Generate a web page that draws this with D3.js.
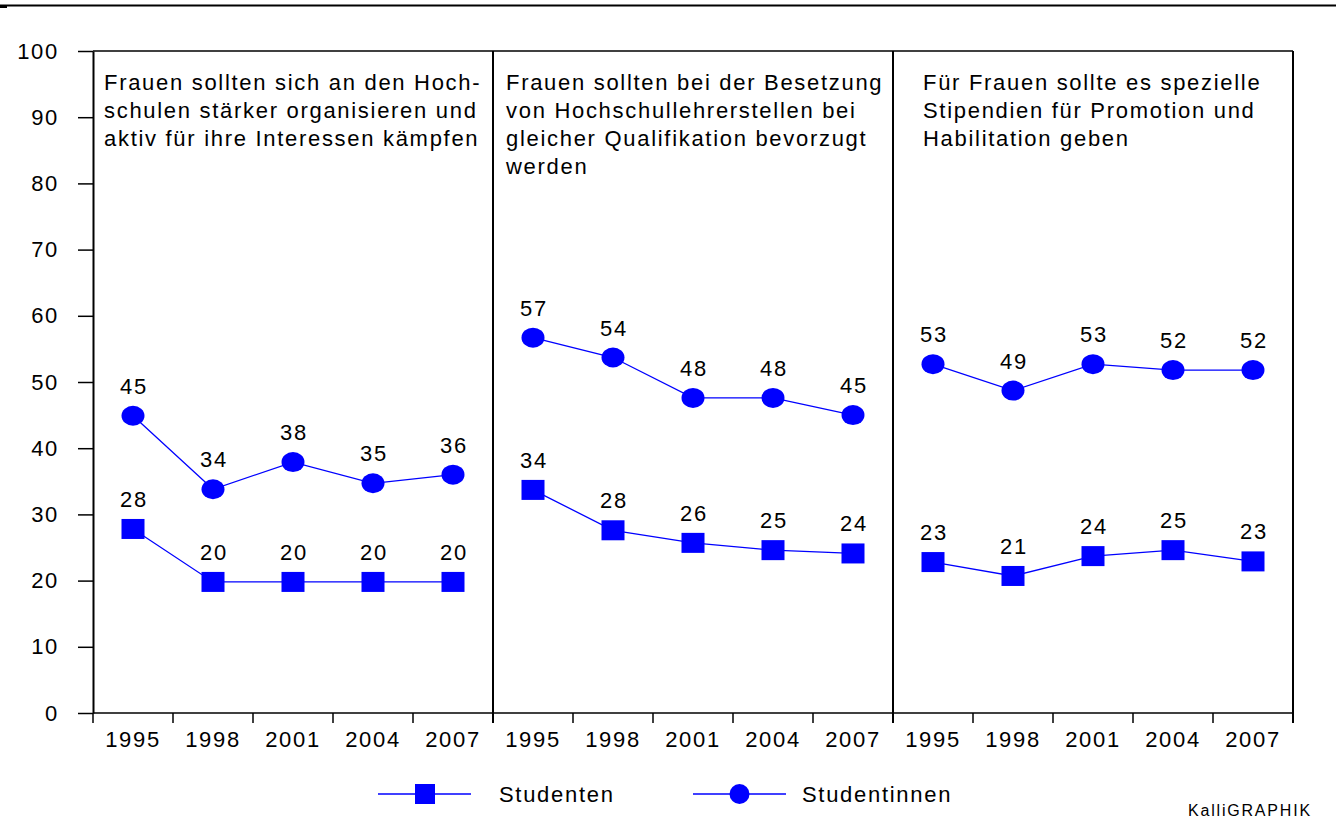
<!DOCTYPE html>
<html lang="de">
<head>
    <meta charset="UTF-8">
    <title>Frauenförderung an Hochschulen</title>
    <script src="https://d3js.org/d3.v7.min.js"></script>
    <style>
        body { margin: 0; background: #fff; }
        text {
            font-family: "Liberation Sans", Arial, sans-serif;
            font-size: 22px;
            letter-spacing: 1.7px;
            fill: #000;
        }
        .series line, .series path { stroke: #0000ff; }
    </style>
</head>
<body>
<svg width="1336" height="823"></svg>
<script>
    // data
    var years = ["1995", "1998", "2001", "2004", "2007"];
    var yTicks = [0, 10, 20, 30, 40, 50, 60, 70, 80, 90, 100];

    var titles = [
        ["Frauen sollten sich an den Hoch-", "schulen stärker organisieren und", "aktiv für ihre Interessen kämpfen"],
        ["Frauen sollten bei der Besetzung", "von Hochschullehrerstellen bei", "gleicher Qualifikation bevorzugt", "werden"],
        ["Für Frauen sollte es spezielle", "Stipendien für Promotion und", "Habilitation geben"]
    ];

    // plotted positions (unrounded) and printed labels
    var studenten = [
        [27.8, 19.8, 19.8, 19.8, 19.8],
        [33.7, 27.6, 25.7, 24.6, 24.1],
        [22.8, 20.7, 23.7, 24.6, 22.9]
    ];
    var studentenLabels = [
        [28, 20, 20, 20, 20],
        [34, 28, 26, 25, 24],
        [23, 21, 24, 25, 23]
    ];
    var studentinnen = [
        [44.9, 33.8, 37.9, 34.7, 36.0],
        [56.7, 53.7, 47.6, 47.6, 45.0],
        [52.7, 48.7, 52.7, 51.8, 51.8]
    ];
    var studentinnenLabels = [
        [45, 34, 38, 35, 36],
        [57, 54, 48, 48, 45],
        [53, 49, 53, 52, 52]
    ];

    var svg = d3.select("svg");

    var plotLeft = 93, plotRight = 1293, plotTop = 51, plotBottom = 713;

    var xPanel = d3.scaleBand().domain([0, 1, 2]).range([plotLeft, plotRight]);
    var xYear = d3.scaleBand().domain(years).range([0, xPanel.bandwidth()]);
    var y = d3.scaleLinear().domain([0, 100]).range([plotBottom, plotTop]);

    // thick rule at the very top
    svg.append("line")
        .attr("x1", 0).attr("x2", 1336)
        .attr("y1", 5.5).attr("y2", 5.5)
        .style("stroke", "#000").style("stroke-width", 2.2);
    svg.append("rect").attr("x", 0).attr("y", 5).attr("width", 7).attr("height", 3).style("fill", "#000");

    // y axis
    var yAxis = svg.append("g")
        .attr("transform", "translate(" + plotLeft + ",0)")
        .call(d3.axisLeft(y).tickValues(yTicks).tickSize(15).tickSizeOuter(0).tickPadding(19));
    yAxis.select(".domain").style("stroke-width", 2);
    yAxis.selectAll(".tick line").style("stroke-width", 1.5);
    yAxis.selectAll("text").attr("font-family", null).attr("font-size", null);

    // top frame line and baseline
    svg.append("line")
        .attr("x1", plotLeft).attr("x2", plotRight)
        .attr("y1", plotTop).attr("y2", plotTop)
        .style("stroke", "#000").style("stroke-width", 1.5);
    svg.append("line")
        .attr("x1", plotLeft).attr("x2", plotRight)
        .attr("y1", plotBottom).attr("y2", plotBottom)
        .style("stroke", "#000").style("stroke-width", 1.5);

    var cx = function(i) { return xYear(years[i]) + xYear.bandwidth() / 2; };

    var line = d3.line()
        .x(function(d, i) { return cx(i); })
        .y(function(d) { return y(d); });

    titles.forEach(function(title, p) {
        var g = svg.append("g").attr("transform", "translate(" + xPanel(p) + ",0)");

        // right border of panel
        g.append("line")
            .attr("x1", xPanel.bandwidth()).attr("x2", xPanel.bandwidth())
            .attr("y1", plotTop).attr("y2", plotBottom + 10)
            .style("stroke", "#000").style("stroke-width", 2);

        // x axis labels
        var xa = g.append("g")
            .attr("transform", "translate(0," + plotBottom + ")")
            .call(d3.axisBottom(xYear).tickSize(0).tickPadding(18));
        xa.select(".domain").remove();
        xa.selectAll("text").attr("font-family", null).attr("font-size", null);

        // tick marks at band boundaries
        g.selectAll(".bound")
            .data(years)
            .enter().append("line")
            .attr("class", "bound")
            .attr("x1", function(d) { return xYear(d); })
            .attr("x2", function(d) { return xYear(d); })
            .attr("y1", plotBottom).attr("y2", plotBottom + 10)
            .style("stroke", "#000").style("stroke-width", 1.5);

        // panel title
        var tx = p === 2 ? 30 : (p === 1 ? 13 : 11);
        g.append("text")
            .attr("x", tx).attr("y", 90)
            .selectAll("tspan")
            .data(title)
            .enter().append("tspan")
            .attr("x", tx)
            .attr("dy", function(d, i) { return i === 0 ? 0 : 28; })
            .text(function(d) { return d; });

        // series: Studenten (squares)
        var s1 = g.append("g").attr("class", "series");
        s1.append("path")
            .datum(studenten[p])
            .attr("d", line)
            .style("fill", "none").style("stroke-width", 1.3);
        s1.selectAll("rect")
            .data(studenten[p])
            .enter().append("rect")
            .attr("x", function(d, i) { return cx(i) - 11.5; })
            .attr("y", function(d) { return y(d) - 10; })
            .attr("width", 23).attr("height", 20)
            .style("fill", "#0000ff");
        s1.selectAll(".lab")
            .data(studentenLabels[p])
            .enter().append("text")
            .attr("class", "lab")
            .attr("text-anchor", "middle")
            .attr("x", function(d, i) { return cx(i) + 1; })
            .attr("y", function(d, i) { return y(studenten[p][i]) - 22; })
            .text(function(d) { return d; });

        // series: Studentinnen (circles)
        var s2 = g.append("g").attr("class", "series");
        s2.append("path")
            .datum(studentinnen[p])
            .attr("d", line)
            .style("fill", "none").style("stroke-width", 1.3);
        s2.selectAll("ellipse")
            .data(studentinnen[p])
            .enter().append("ellipse")
            .attr("cx", function(d, i) { return cx(i); })
            .attr("cy", function(d) { return y(d); })
            .attr("rx", 11.5).attr("ry", 10)
            .style("fill", "#0000ff");
        s2.selectAll(".lab")
            .data(studentinnenLabels[p])
            .enter().append("text")
            .attr("class", "lab")
            .attr("text-anchor", "middle")
            .attr("x", function(d, i) { return cx(i) + 1; })
            .attr("y", function(d, i) { return y(studentinnen[p][i]) - 22; })
            .text(function(d) { return d; });
    });

    // legend
    var legend = svg.append("g").attr("transform", "translate(0,794)");
    legend.append("line").attr("x1", 378).attr("x2", 471).attr("y1", 0).attr("y2", 0)
        .style("stroke", "#0000ff").style("stroke-width", 1.5);
    legend.append("rect").attr("x", 415).attr("y", -10).attr("width", 20).attr("height", 20)
        .style("fill", "#0000ff");
    legend.append("text").attr("x", 499).attr("y", 8).text("Studenten");

    legend.append("line").attr("x1", 693).attr("x2", 786).attr("y1", 0).attr("y2", 0)
        .style("stroke", "#0000ff").style("stroke-width", 1.5);
    legend.append("circle").attr("cx", 739.5).attr("cy", 0).attr("r", 10)
        .style("fill", "#0000ff");
    legend.append("text").attr("x", 802).attr("y", 8).text("Studentinnen");

    svg.append("text")
        .attr("x", 1188).attr("y", 816)
        .style("font-size", "16px").style("letter-spacing", "1.8px")
        .text("KalliGRAPHIK");
</script>
</body>
</html>
